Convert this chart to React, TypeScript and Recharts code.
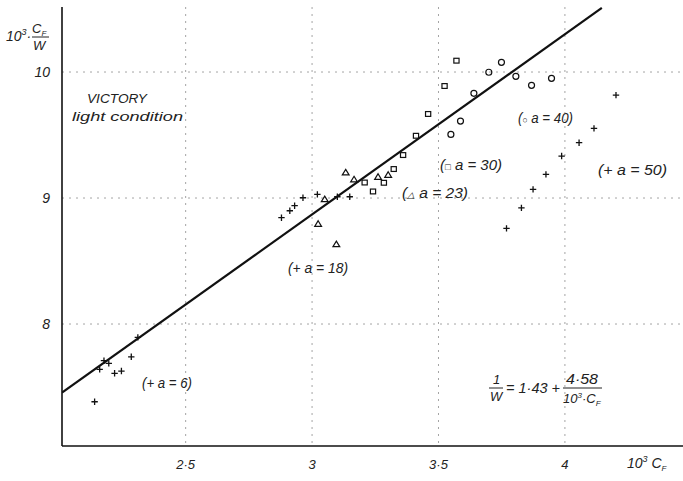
import React from 'react';
import { ComposedChart, Scatter, Line, XAxis, YAxis, CartesianGrid } from 'recharts';

const xTicks = [2.5, 3, 3.5, 4];
const xTickLabels = ['2·5', '3', '3·5', '4'];
const yTicks = [8, 9, 10];

const seriesA6 = [
  { x: 2.14, y: 7.383 }, { x: 2.16, y: 7.64 }, { x: 2.177, y: 7.709 }, { x: 2.196, y: 7.688 },
  { x: 2.219, y: 7.609 }, { x: 2.246, y: 7.627 }, { x: 2.285, y: 7.74 }, { x: 2.311, y: 7.894 },
];
const seriesA18 = [
  { x: 2.879, y: 8.844 }, { x: 2.912, y: 8.899 }, { x: 2.931, y: 8.939 }, { x: 2.964, y: 9.002 },
  { x: 3.021, y: 9.029 }, { x: 3.1, y: 9.01 }, { x: 3.149, y: 9.01 },
];
const seriesA23 = [
  { x: 3.024, y: 8.794 }, { x: 3.096, y: 8.633 }, { x: 3.05, y: 8.99 }, { x: 3.133, y: 9.202 },
  { x: 3.166, y: 9.147 }, { x: 3.261, y: 9.167 }, { x: 3.301, y: 9.183 },
];
const seriesA30 = [
  { x: 3.208, y: 9.123 }, { x: 3.241, y: 9.052 }, { x: 3.284, y: 9.121 }, { x: 3.323, y: 9.23 },
  { x: 3.36, y: 9.341 }, { x: 3.411, y: 9.494 }, { x: 3.459, y: 9.667 }, { x: 3.524, y: 9.889 },
  { x: 3.571, y: 10.09 },
];
const seriesA40 = [
  { x: 3.549, y: 9.505 }, { x: 3.587, y: 9.611 }, { x: 3.64, y: 9.831 }, { x: 3.699, y: 9.998 },
  { x: 3.749, y: 10.077 }, { x: 3.806, y: 9.966 }, { x: 3.868, y: 9.894 }, { x: 3.947, y: 9.95 },
];
const seriesA50 = [
  { x: 3.769, y: 8.759 }, { x: 3.828, y: 8.922 }, { x: 3.874, y: 9.069 }, { x: 3.925, y: 9.188 },
  { x: 3.987, y: 9.333 }, { x: 4.056, y: 9.439 }, { x: 4.115, y: 9.553 }, { x: 4.202, y: 9.817 },
];

// Fitted relation printed on the chart: 1/W = 1.43 + 4.58/(10^3 C_F)
const fitSlope = 1.43;
const fitIntercept = 4.58;
const fitXs = [2.011, 4.146];
const fitLine = fitXs.map((x) => ({ x, y: fitIntercept + fitSlope * x }));

const FONT = '"Liberation Sans", Arial, sans-serif';

const Plus = (p: any) => (
  <path d={`M${p.cx - 3.2},${p.cy}H${p.cx + 3.2}M${p.cx},${p.cy - 3.2}V${p.cy + 3.2}`} stroke="#111" strokeWidth={1.3} fill="none" />
);
const Tri = (p: any) => (
  <path d={`M${p.cx},${p.cy - 3.2}L${p.cx + 3.4},${p.cy + 2.4}L${p.cx - 3.4},${p.cy + 2.4}Z`} stroke="#111" strokeWidth={1.2} fill="none" />
);
const Sq = (p: any) => (
  <rect x={p.cx - 2.6} y={p.cy - 2.4} width={5.2} height={4.8} stroke="#111" strokeWidth={1.2} fill="none" />
);
const Circ = (p: any) => (
  <circle cx={p.cx} cy={p.cy} r={3} stroke="#111" strokeWidth={1.2} fill="none" />
);

const XTick = (p: any) => {
  const i = xTicks.indexOf(p.payload.value);
  return (
    <text x={p.x} y={469} textAnchor="middle" fontFamily={FONT} fontStyle="italic" fontSize={13} fill="#222">
      {xTickLabels[i] ?? String(p.payload.value)}
    </text>
  );
};
const YTick = (p: any) => (
  <text x={p.x} y={p.y + 5} textAnchor="end" fontFamily={FONT} fontStyle="italic" fontSize={14} fill="#222">
    {p.payload.value}
  </text>
);

const T = (props: any) => (
  <text fontFamily={FONT} fontStyle="italic" fill="#222" lengthAdjust="spacingAndGlyphs" {...props} />
);

export default function App() {
  return (
    <div style={{ position: 'absolute', left: 0, top: 0, width: 683, height: 481, background: '#fff' }}>
      <ComposedChart width={683} height={481} margin={{ top: 7, right: 0, bottom: 0, left: 0 }}>
        <CartesianGrid
          stroke="#9a9a9a"
          strokeDasharray="2 5"
          strokeWidth={0.9}
          horizontalValues={yTicks}
          verticalValues={xTicks}
        />
        <XAxis
          type="number"
          dataKey="x"
          domain={[2.011, 4.467]}
          allowDataOverflow
          ticks={xTicks}
          tick={<XTick />}
          tickLine={false}
          tickSize={0}
          height={35}
          axisLine={{ stroke: '#111', strokeWidth: 1.6 }}
        />
        <YAxis
          type="number"
          dataKey="y"
          domain={[7.032, 10.516]}
          allowDataOverflow
          ticks={yTicks}
          tick={<YTick />}
          tickLine={false}
          tickSize={0}
          tickMargin={12}
          width={62}
          axisLine={{ stroke: '#111', strokeWidth: 1.6 }}
        />
        <Line data={fitLine} dataKey="y" type="linear" stroke="#111" strokeWidth={2.2} dot={false} isAnimationActive={false} />
        <Scatter data={seriesA6} shape={<Plus />} isAnimationActive={false} />
        <Scatter data={seriesA18} shape={<Plus />} isAnimationActive={false} />
        <Scatter data={seriesA23} shape={<Tri />} isAnimationActive={false} />
        <Scatter data={seriesA30} shape={<Sq />} isAnimationActive={false} />
        <Scatter data={seriesA40} shape={<Circ />} isAnimationActive={false} />
        <Scatter data={seriesA50} shape={<Plus />} isAnimationActive={false} />
      </ComposedChart>
      <svg width={683} height={481} style={{ position: 'absolute', left: 0, top: 0, pointerEvents: 'none' }}>
        {/* y axis title */}
        <T x={6} y={41} fontSize={14}>10<tspan dy={-6} fontSize={9}>3</tspan><tspan dy={6}>·</tspan></T>
        <T x={32} y={33} fontSize={13}>C<tspan dy={3} fontSize={8}>F</tspan></T>
        <line x1={32} x2={49} y1={37} y2={37} stroke="#222" strokeWidth={1} />
        <T x={33} y={50} fontSize={13}>W</T>
        {/* title */}
        <T x={87} y={103} fontSize={13} textLength={60}>VICTORY</T>
        <T x={72} y={121} fontSize={13} textLength={111}>light condition</T>
        {/* annotations */}
        <T x={142} y={388} fontSize={14} textLength={50}>(+ a = 6)</T>
        <T x={288} y={273} fontSize={14} textLength={60}>(+ a = 18)</T>
        <T x={402} y={198} fontSize={14} textLength={66}>(<tspan fontSize={9}>△</tspan> a = 23)</T>
        <T x={440} y={170} fontSize={14} textLength={62}>(<tspan fontSize={9}>□</tspan> a = 30)</T>
        <T x={518} y={123} fontSize={14} textLength={55}>(<tspan fontSize={9}>○</tspan> a = 40)</T>
        <T x={598} y={175} fontSize={14} textLength={69}>(+ a = 50)</T>
        {/* x axis title */}
        <T x={627} y={468} fontSize={14}>10<tspan dy={-6} fontSize={9}>3</tspan><tspan dy={6}> C</tspan><tspan dy={3} fontSize={8}>F</tspan></T>
        {/* formula */}
        <T x={493} y={384} fontSize={13}>1</T>
        <line x1={489} x2={503} y1={388} y2={388} stroke="#222" strokeWidth={1} />
        <T x={490} y={401} fontSize={13}>W</T>
        <T x={506} y={393} fontSize={14} textLength={54}>= 1·43 +</T>
        <T x={566} y={384} fontSize={14} textLength={32}>4·58</T>
        <line x1={563} x2={602} y1={388} y2={388} stroke="#222" strokeWidth={1} />
        <T x={563} y={403} fontSize={13}>10<tspan dy={-5} fontSize={8}>3</tspan><tspan dy={5}>·C</tspan><tspan dy={3} fontSize={8}>F</tspan></T>
      </svg>
    </div>
  );
}
